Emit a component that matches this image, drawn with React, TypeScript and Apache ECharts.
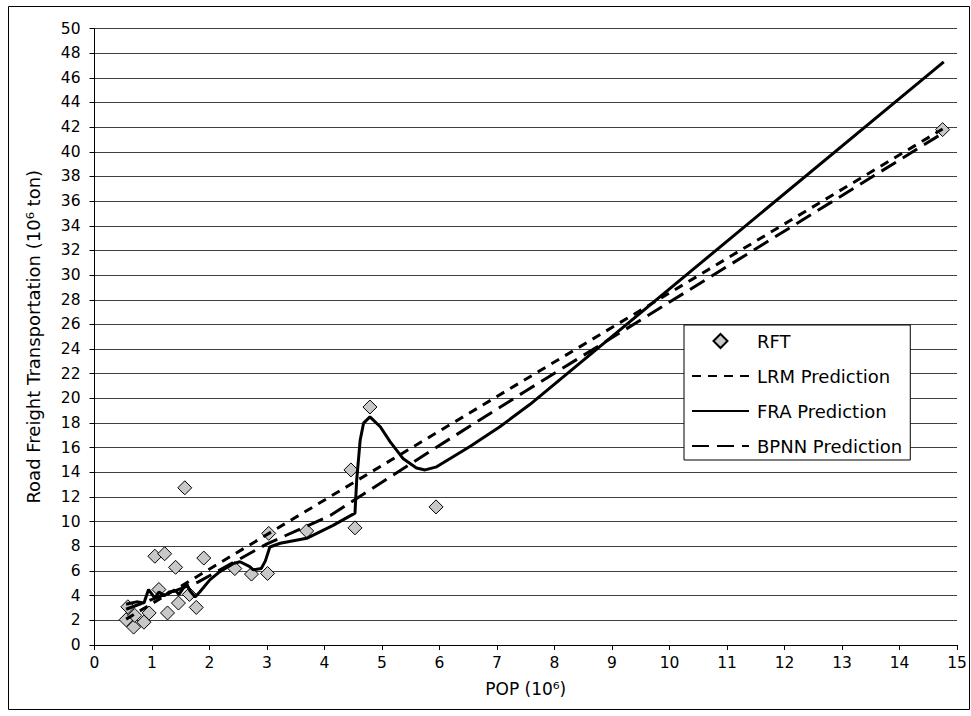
import React, { useEffect, useRef } from "react";
import * as echarts from "echarts";

// Observed data (RFT)
const rftX = [0.55, 0.58, 0.68, 0.70, 0.86, 0.95, 1.05, 1.12, 1.22, 1.27, 1.41, 1.46, 1.57, 1.65, 1.77, 1.90, 2.44, 2.73, 3.01, 3.03, 3.69, 4.46, 4.53, 4.79, 5.94, 14.75];
const rftY = [2.05, 3.1, 1.45, 2.4, 1.85, 2.6, 7.2, 4.5, 7.4, 2.6, 6.3, 3.4, 12.75, 4.1, 3.05, 7.05, 6.2, 5.75, 5.8, 9.05, 9.25, 14.2, 9.5, 19.3, 11.2, 41.8];

// LRM prediction (linear)
const lrmX = [0.55, 14.75];
const lrmY = [2.1, 41.85];

// FRA prediction
const fraX = [0.55, 0.73, 0.86, 0.94, 1.05, 1.12, 1.22, 1.3, 1.41, 1.47, 1.6, 1.66, 1.75, 1.83, 2.01, 2.18, 2.41, 2.53, 2.7, 2.76, 2.9, 2.97, 3.05, 3.23, 3.69, 4.15, 4.53, 4.56, 4.62, 4.68, 4.79, 4.97, 5.14, 5.37, 5.6, 5.75, 5.95, 6.53, 7.05, 7.57, 14.77];
const fraY = [3.3, 3.5, 3.4, 4.5, 3.8, 4.3, 4.0, 4.3, 4.4, 4.1, 5.0, 4.4, 3.9, 4.3, 5.3, 5.95, 6.6, 6.75, 6.35, 6.1, 6.2, 6.8, 7.95, 8.25, 8.65, 9.7, 10.7, 13.4, 16.6, 18.0, 18.5, 17.7, 16.5, 15.1, 14.35, 14.2, 14.45, 16.1, 17.7, 19.5, 47.3];

// BPNN prediction
const bpnnX = [0.55, 1.8, 3.0, 4.1, 5.9, 7.5, 14.75];
const bpnnY = [2.9, 5.1, 8.2, 10.5, 15.9, 20.6, 41.5];

const xTicks = { min: 0, max: 15, interval: 1 };
const yTicks = { min: 0, max: 50, interval: 2 };

const pairs = (xs: number[], ys: number[]) => xs.map((x, i) => [x, ys[i]]);

const FONT = "DejaVu Sans";
const DIAMOND_ICON = "path://M0,5L5,0L10,5L5,10Z";
const HIDDEN_SYMBOL = { opacity: 0 };

export default function App() {
  const ref = useRef<HTMLDivElement>(null);
  useEffect(() => {
    if (!ref.current) return;
    const chart = echarts.init(ref.current, undefined, { renderer: "svg" });
    chart.setOption({
      animation: false,
      backgroundColor: "#fff",
      textStyle: { fontFamily: FONT },
      graphic: [
        {
          type: "rect",
          silent: true,
          shape: { x: 8.5, y: 6.5, width: 961, height: 703 },
          style: { fill: "none", stroke: "#000", lineWidth: 1 },
        },
      ],
      grid: { left: 94.5, right: 14, top: 28.5, bottom: 71, containLabel: false },
      legend: {
        orient: "vertical",
        left: 684,
        top: 325,
        padding: [7, 8, 5, 7],
        itemGap: 17,
        itemWidth: 57,
        itemHeight: 14,
        symbolKeepAspect: true,
        borderColor: "#000",
        borderWidth: 1,
        backgroundColor: "#fff",
        textStyle: { fontSize: 18, fontFamily: FONT, color: "#000", padding: [0, 0, 0, 3] },
        data: [
          { name: "RFT", icon: DIAMOND_ICON },
          { name: "LRM Prediction", itemStyle: HIDDEN_SYMBOL },
          { name: "FRA Prediction", itemStyle: HIDDEN_SYMBOL },
          { name: "BPNN Prediction", itemStyle: HIDDEN_SYMBOL },
        ],
      },
      xAxis: {
        type: "value",
        min: xTicks.min,
        max: xTicks.max,
        interval: xTicks.interval,
        axisLine: { show: true, onZero: false, lineStyle: { color: "#000", width: 1 } },
        axisTick: { show: true, inside: false, length: 5, lineStyle: { color: "#000" } },
        splitLine: { show: false },
        axisLabel: { color: "#000", fontSize: 15.5, fontFamily: FONT, margin: 10 },
        name: "POP (10⁶)",
        nameLocation: "middle",
        nameGap: 35,
        nameTextStyle: { color: "#000", fontSize: 17, fontFamily: FONT },
      },
      yAxis: {
        type: "value",
        min: yTicks.min,
        max: yTicks.max,
        interval: yTicks.interval,
        axisLine: { show: true, onZero: false, lineStyle: { color: "#000", width: 1 } },
        axisTick: { show: true, inside: false, length: 5, lineStyle: { color: "#000" } },
        splitLine: { show: true, lineStyle: { color: "#404040", width: 1 } },
        axisLabel: { color: "#000", fontSize: 15.5, fontFamily: FONT, margin: 14 },
        name: "Road Freight Transportation (10⁶ ton)",
        nameLocation: "middle",
        nameRotate: 90,
        nameGap: 52,
        nameTextStyle: { color: "#000", fontSize: 18, fontFamily: FONT },
      },
      series: [
        {
          name: "RFT",
          type: "scatter",
          symbol: "diamond",
          symbolSize: 14,
          itemStyle: { color: "#C8C8C8", borderColor: "#000", borderWidth: 1, opacity: 1 },
          data: pairs(rftX, rftY),
          z: 2,
        },
        {
          name: "LRM Prediction",
          type: "line",
          symbol: "none",
          lineStyle: { color: "#000", width: 3, type: [9, 7] },
          itemStyle: { color: "#000" },
          data: pairs(lrmX, lrmY),
          z: 3,
        },
        {
          name: "FRA Prediction",
          type: "line",
          symbol: "none",
          lineStyle: { color: "#000", width: 3, type: "solid" },
          itemStyle: { color: "#000" },
          data: pairs(fraX, fraY),
          z: 3,
        },
        {
          name: "BPNN Prediction",
          type: "line",
          symbol: "none",
          lineStyle: { color: "#000", width: 3, type: [17, 8] },
          itemStyle: { color: "#000" },
          data: pairs(bpnnX, bpnnY),
          z: 3,
        },
      ],
    });
    return () => chart.dispose();
  }, []);
  return (
    <div
      ref={ref}
      style={{ position: "fixed", left: 0, top: 0, width: 971, height: 716, background: "#fff" }}
    />
  );
}
